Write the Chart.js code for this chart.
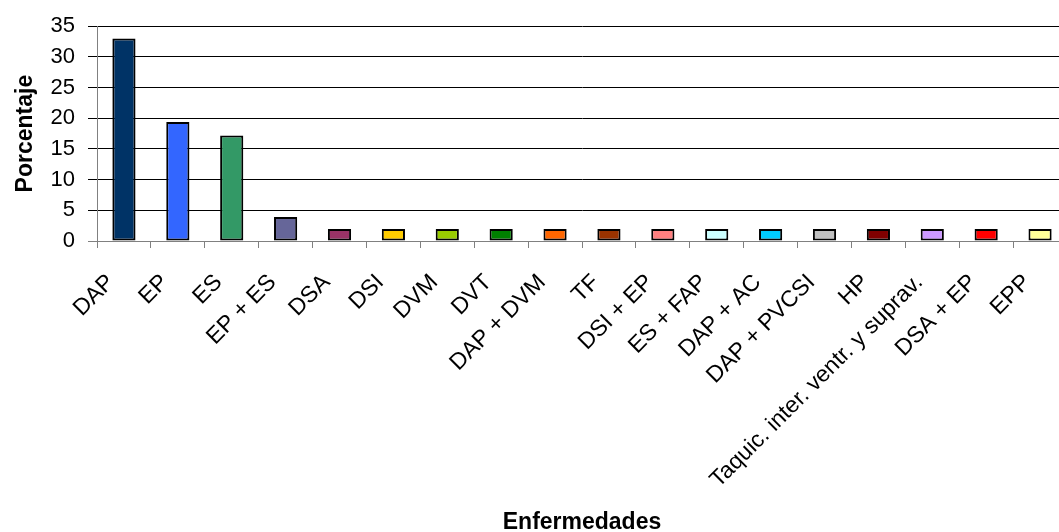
<!DOCTYPE html>
<html>
<head>
<meta charset="utf-8">
<script src="https://cdn.jsdelivr.net/npm/chart.js@4"></script>
<style>
  html, body { margin: 0; padding: 0; background: #fff; overflow: hidden; }
  #wrap { position: relative; width: 1070px; height: 532px; }
</style>
</head>
<body>
<div id="wrap"><canvas id="chart"></canvas></div>
<script>
// categorias (enfermedades)
const categories = [
  'DAP', 'EP', 'ES', 'EP + ES', 'DSA', 'DSI', 'DVM', 'DVT', 'DAP + DVM',
  'TF', 'DSI + EP', 'ES + FAP', 'DAP + AC', 'DAP + PVCSI', 'HP',
  'Taquic. inter. ventr. y suprav.', 'DSA + EP', 'EPP'
];
// porcentaje
const porcentaje = [
  33.0, 19.4, 17.2, 3.9, 1.95, 1.95, 1.95, 1.95, 1.95,
  1.95, 1.95, 1.95, 1.95, 1.95, 1.95, 1.95, 1.95, 1.95
];
// colores de cada barra
const barColors = [
  '#003366', '#3366FF', '#339966', '#666699', '#993366', '#FFCC00',
  '#99CC00', '#008000', '#FF6600', '#993300', '#FF8080', '#CCFFFF',
  '#00CCFF', '#C0C0C0', '#800000', '#CC99FF', '#FF0000', '#FFFF99'
];
const yTicks = [0, 5, 10, 15, 20, 25, 30, 35];

const FONT = "'Liberation Sans', Arial, sans-serif";

new Chart(document.getElementById('chart'), {
  type: 'bar',
  data: {
    labels: categories,
    datasets: [{
      data: porcentaje,
      backgroundColor: barColors,
      borderColor: '#000',
      borderWidth: 2,
      borderSkipped: false,
      barPercentage: 0.43,
      categoryPercentage: 1
    }]
  },
  options: {
    responsive: true,
    maintainAspectRatio: false,
    animation: false,
    layout: { padding: { top: 26, left: 0, right: 3, bottom: 0 } },
    plugins: {
      legend: { display: false },
      tooltip: { enabled: false }
    },
    scales: {
      x: {
        offset: true,
        afterFit: (scale) => {
          scale.height = 291;
          // sin relleno extra por las etiquetas giradas
          scale.paddingLeft = 0;
          scale.paddingRight = 0;
        },
        grid: {
          offset: true,
          drawOnChartArea: false,
          tickLength: 7,
          color: '#808080',
          lineWidth: 1
        },
        border: { color: '#808080', width: 1 },
        ticks: {
          minRotation: 45,
          maxRotation: 45,
          autoSkip: false,
          padding: 21,
          labelOffset: -13,
          color: '#000',
          font: { family: FONT, size: 23 }
        },
        title: {
          display: true,
          text: 'Enfermedades',
          color: '#000',
          padding: { top: 0, bottom: -4 },
          font: { family: FONT, size: 23, weight: 'bold' }
        }
      },
      y: {
        min: 0,
        max: 35,
        afterFit: (scale) => { scale.width = 97; },
        afterBuildTicks: (scale) => { scale.ticks = yTicks.map(v => ({ value: v })); },
        grid: {
          color: (ctx) => ctx.tick && ctx.tick.value === 0 ? '#808080' : '#000',
          lineWidth: 1,
          tickLength: 9
        },
        border: { color: '#808080', width: 1 },
        ticks: {
          padding: 13,
          color: '#000',
          font: { family: FONT, size: 22 }
        },
        title: {
          display: true,
          text: 'Porcentaje',
          color: '#000',
          padding: { top: 12, bottom: 0 },
          font: { family: FONT, size: 23, weight: 'bold' }
        }
      }
    }
  }
});
</script>
</body>
</html>
